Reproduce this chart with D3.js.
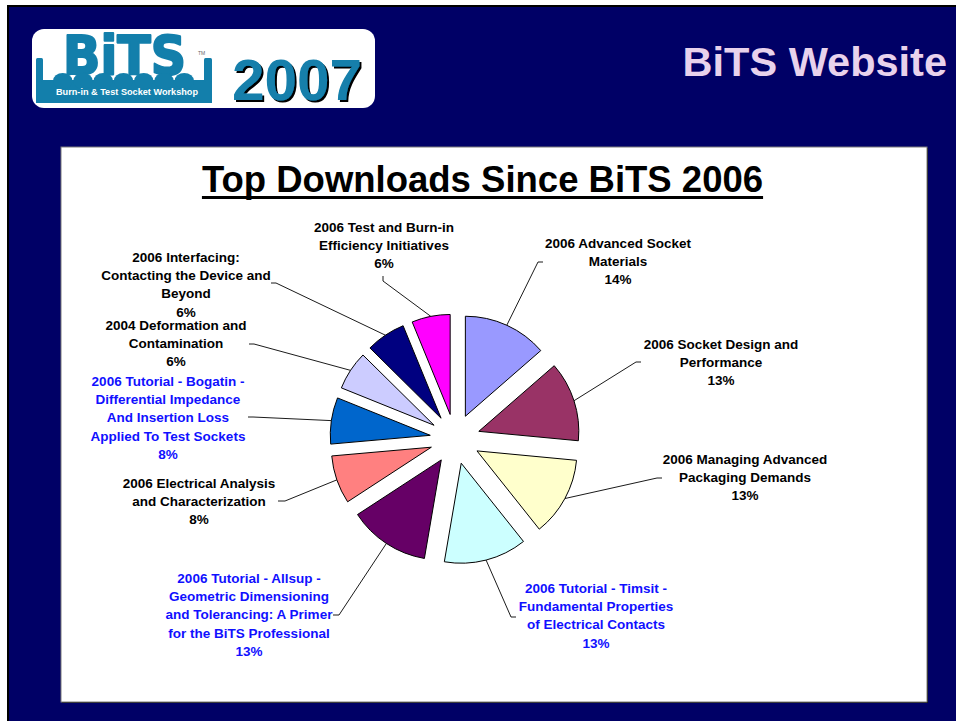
<!DOCTYPE html>
<html>
<head>
<meta charset="utf-8">
<script src="https://cdn.jsdelivr.net/npm/d3@7"></script>
<style>
  html, body { margin: 0; padding: 0; background: #fff; }
  svg { display: block; font-family: "Liberation Sans", Arial, sans-serif; }
</style>
</head>
<body>
<div id="chart"></div>
<script>
// Slide: "BiTS Website" — exploded pie of top downloads since BiTS 2006.
const categories = [
  "2006 Advanced Socket Materials",
  "2006 Socket Design and Performance",
  "2006 Managing Advanced Packaging Demands",
  "2006 Tutorial - Timsit - Fundamental Properties of Electrical Contacts",
  "2006 Tutorial - Allsup - Geometric Dimensioning and Tolerancing: A Primer for the BiTS Professional",
  "2006 Electrical Analysis and Characterization",
  "2006 Tutorial - Bogatin - Differential Impedance And Insertion Loss Applied To Test Sockets",
  "2004 Deformation and Contamination",
  "2006 Interfacing: Contacting the Device and Beyond",
  "2006 Test and Burn-in Efficiency Initiatives"
];
// share of downloads (percent)
const values = [13.6, 12.9, 12.8, 13.4, 13.1, 7.8, 7.5, 6.3, 6.4, 6.2];
// label text as wrapped on the slide
const labelLines = [
  ["2006 Advanced Socket", "Materials"],
  ["2006 Socket Design and", "Performance"],
  ["2006 Managing Advanced", "Packaging Demands"],
  ["2006 Tutorial - Timsit -", "Fundamental Properties", "of Electrical Contacts"],
  ["2006 Tutorial - Allsup -", "Geometric Dimensioning", "and Tolerancing: A Primer", "for the BiTS Professional"],
  ["2006 Electrical Analysis", "and Characterization"],
  ["2006 Tutorial - Bogatin -", "Differential Impedance", "And Insertion Loss", "Applied To Test Sockets"],
  ["2004 Deformation and", "Contamination"],
  ["2006 Interfacing:", "Contacting the Device and", "Beyond"],
  ["2006 Test and Burn-in", "Efficiency Initiatives"]
];

// styling / layout (kept apart from the data)
const sliceColors = ["#9999FF", "#993366", "#FFFFCC", "#CCFFFF", "#660066",
                     "#FF8080", "#0066CC", "#CCCCFF", "#000080", "#FF00FF"];
const tutorial = [false, false, false, true, true, false, true, false, false, false];
// label block centre x, first line centre y, leader end (ex,ey) and elbow (bx,by)
const labelPos = [
  { x: 618, y: 243, ex: 543, ey: 262, bx: 538, by: 262 },
  { x: 721, y: 344, ex: 641, ey: 362, bx: 636, by: 362 },
  { x: 745, y: 459, ex: 662, ey: 478, bx: 657, by: 478 },
  { x: 596, y: 588, ex: 516, ey: 617, bx: 511, by: 617 },
  { x: 249, y: 578, ex: 333, ey: 615, bx: 339, by: 615 },
  { x: 199, y: 483, ex: 278, ey: 501, bx: 285, by: 501 },
  { x: 168, y: 381, ex: 248, ey: 417, bx: 253, by: 417 },
  { x: 176, y: 325, ex: 249, ey: 344, bx: 254, by: 344 },
  { x: 186, y: 257, ex: 271, ey: 283, bx: 276, by: 283 },
  { x: 384, y: 227, ex: 383, ey: 276, bx: 383, by: 281 }
];

const W = 956, H = 721;
const NAVY = "#000066", TEAL = "#137fab";

const svg = d3.select("#chart").append("svg")
  .attr("width", W).attr("height", H)
  .attr("viewBox", `0 0 ${W} ${H}`);

const defs = svg.append("defs");
defs.append("filter").attr("id", "shadow").attr("x", "-10%").attr("y", "-10%")
  .attr("width", "130%").attr("height", "130%")
  .append("feDropShadow").attr("dx", 2).attr("dy", 2).attr("stdDeviation", 0.4)
  .attr("flood-color", "#000").attr("flood-opacity", 1);

// slide background with the thin frame on top / left
svg.append("rect").attr("width", W).attr("height", H).attr("fill", "#fff");
svg.append("rect").attr("x", 7).attr("y", 5).attr("width", W - 7).attr("height", H - 5).attr("fill", "#000");
svg.append("rect").attr("x", 9).attr("y", 7).attr("width", W - 9).attr("height", H - 7).attr("fill", NAVY);

// header: logo box
const hdr = svg.append("g");
hdr.append("rect").attr("x", 32).attr("y", 29).attr("width", 343).attr("height", 79)
  .attr("rx", 12).attr("fill", "#fff");

const logo = hdr.append("g");
logo.append("text").attr("x", 63).attr("y", 74)
  .attr("font-family", "'DejaVu Sans', sans-serif").attr("font-weight", "bold")
  .attr("font-size", 54).attr("fill", TEAL).attr("stroke", TEAL).attr("stroke-width", 2.2)
  .attr("stroke-linejoin", "round")
  .attr("textLength", 123).attr("lengthAdjust", "spacingAndGlyphs").text("BiTS");
logo.append("text").attr("x", 198).attr("y", 55).attr("font-size", 5).attr("fill", "#666").text("TM");
logo.append("rect").attr("x", 36).attr("y", 80).attr("width", 176).attr("height", 23).attr("fill", TEAL);
logo.append("rect").attr("x", 36).attr("y", 58).attr("width", 7).attr("height", 24).attr("rx", 1.5).attr("fill", TEAL);
logo.append("rect").attr("x", 204).attr("y", 58).attr("width", 8).attr("height", 24).attr("rx", 1.5).attr("fill", TEAL);
const bumps = d3.range(7);
const bx = d3.scaleBand().domain(bumps).range([53, 194]).paddingInner(0.04);
logo.selectAll("ellipse.bump").data(bumps).join("ellipse").attr("class", "bump")
  .attr("cx", d => bx(d) + bx.bandwidth() / 2).attr("cy", 81)
  .attr("rx", bx.bandwidth() / 2).attr("ry", 8).attr("fill", TEAL);
logo.append("text").attr("x", 56).attr("y", 95).attr("font-size", 8.5).attr("font-weight", "bold")
  .attr("fill", "#fff").attr("textLength", 142).attr("lengthAdjust", "spacingAndGlyphs")
  .text("Burn-in & Test Socket Workshop");

hdr.append("text").attr("x", 232).attr("y", 100).attr("font-size", 58).attr("font-weight", "bold")
  .attr("fill", TEAL).attr("filter", "url(#shadow)")
  .attr("textLength", 130).attr("lengthAdjust", "spacingAndGlyphs").text("2007");

svg.append("text").attr("x", 947).attr("y", 76).attr("text-anchor", "end")
  .attr("font-size", 41.5).attr("font-weight", "bold").attr("fill", "#e8d2ec").text("BiTS Website");

// chart panel
svg.append("rect").attr("x", 62).attr("y", 148).attr("width", 866).attr("height", 555).attr("fill", "#000");
svg.append("rect").attr("x", 61).attr("y", 147).attr("width", 866).attr("height", 555)
  .attr("fill", "#fff").attr("stroke", "#7a7a7a").attr("stroke-width", 1);

const title = svg.append("text").attr("x", 482.5).attr("y", 192).attr("text-anchor", "middle")
  .attr("font-size", 36.5).attr("font-weight", "bold").attr("fill", "#000")
  .text("Top Downloads Since BiTS 2006");
const tw = title.node().getComputedTextLength();
svg.append("rect").attr("x", 482.5 - tw / 2).attr("y", 196).attr("width", tw).attr("height", 3).attr("fill", "#000");

// pie
const cx = 455, cy = 439, R = 100, EXPLODE = 25;
const total = d3.sum(values);
const arcs = d3.pie().sort(null).value(d => d)(values);
const arcGen = d3.arc().innerRadius(0).outerRadius(R);
const mid = d => (d.startAngle + d.endAngle) / 2;

const pieG = svg.append("g").attr("transform", `translate(${cx},${cy})`);
pieG.selectAll("path.slice").data(arcs).join("path").attr("class", "slice")
  .attr("transform", d => `translate(${EXPLODE * Math.sin(mid(d))},${-EXPLODE * Math.cos(mid(d))})`)
  .attr("d", arcGen)
  .attr("fill", d => sliceColors[d.index])
  .attr("stroke", "#000").attr("stroke-width", 1).attr("stroke-linejoin", "round");

// leader lines
svg.append("g").selectAll("polyline").data(arcs).join("polyline")
  .attr("fill", "none").attr("stroke", "#000").attr("stroke-width", 0.9)
  .attr("points", d => {
    const a = mid(d), p = labelPos[d.index];
    const sx = cx + (EXPLODE + R) * Math.sin(a), sy = cy - (EXPLODE + R) * Math.cos(a);
    return `${sx},${sy} ${p.bx},${p.by} ${p.ex},${p.ey}`;
  });

// labels
const LH = 18.2;
const lab = svg.append("g").selectAll("text").data(arcs).join("text")
  .attr("text-anchor", "middle").attr("font-size", 13.5).attr("font-weight", "bold")
  .attr("fill", d => tutorial[d.index] ? "#1010ff" : "#000");
lab.each(function (d) {
  const p = labelPos[d.index];
  const lines = labelLines[d.index].concat([Math.round(d.value / total * 100) + "%"]);
  d3.select(this).selectAll("tspan").data(lines).join("tspan")
    .attr("x", p.x).attr("y", (t, i) => p.y + i * LH + 5).text(t => t);
});
</script>
</body>
</html>
